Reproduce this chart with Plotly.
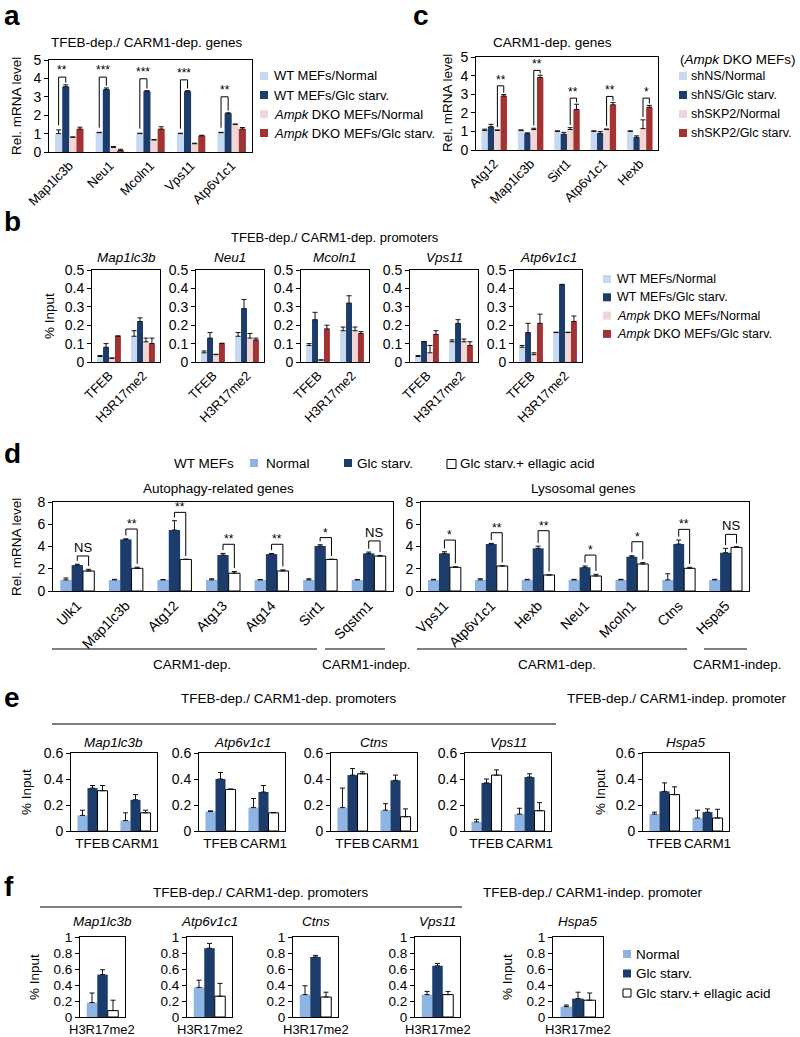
import plotly.graph_objects as go

# ---------------- DATA ----------------
# Panel a: TFEB-dep./CARM1-dep. genes (Rel. mRNA level)
a_genes = ["Map1lc3b", "Neu1", "Mcoln1", "Vps11", "Atp6v1c1"]
a_wt_normal = [1.0, 1.05, 1.0, 1.0, 1.05]
a_wt_normal_err = [0.2, 0.02, 0.02, 0.02, 0.02]
a_wt_glc = [3.55, 3.4, 3.3, 3.3, 2.1]
a_wt_glc_err = [0.1, 0.08, 0.03, 0.03, 0.03]
a_dko_normal = [0.8, 0.25, 0.65, 0.45, 1.5]
a_dko_normal_err = [0.02, 0.05, 0.03, 0.03, 0.02]
a_dko_glc = [1.25, 0.08, 1.25, 0.88, 1.25]
a_dko_glc_err = [0.1, 0.07, 0.12, 0.03, 0.08]
a_sig = ["**", "***", "***", "***", "**"]
a_sig_y = [4.07, 4.07, 3.98, 3.92, 3.0]

# Panel c: CARM1-dep. genes (Ampk DKO MEFs)
c_genes = ["Atg12", "Map1lc3b", "Sirt1", "Atp6v1c1", "Hexb"]
c_shns_normal = [1.05, 1.05, 1.0, 1.0, 1.0]
c_shns_normal_err = [0.07, 0.03, 0.03, 0.03, 0.03]
c_shns_glc = [1.25, 0.88, 0.85, 0.9, 0.68]
c_shns_glc_err = [0.13, 0.04, 0.1, 0.1, 0.08]
c_shskp2_normal = [1.05, 1.1, 1.1, 1.1, 1.15]
c_shskp2_normal_err = [0.03, 0.07, 0.1, 0.03, 0.47]
c_shskp2_glc = [2.9, 3.9, 2.18, 2.43, 2.3]
c_shskp2_glc_err = [0.08, 0.12, 0.28, 0.12, 0.1]
c_sig = ["**", "**", "**", "**", "*"]
c_sig_y = [3.45, 4.28, 2.79, 2.88, 2.79]

# Panel b: ChIP (% Input), per gene: [TFEB, H3R17me2]
b_targets = ["TFEB", "H3R17me2"]
b_genes = ["Map1lc3b", "Neu1", "Mcoln1", "Vps11", "Atp6v1c1"]
b_wt_normal = [[0.03, 0.14], [0.05, 0.14], [0.09, 0.17], [0.03, 0.11], [0.08, 0.16]]
b_wt_normal_err = [[0.005, 0.03], [0.01, 0.02], [0.01, 0.02], [0.005, 0.01], [0.01, 0.002]]
b_wt_glc = [[0.08, 0.22], [0.13, 0.29], [0.23, 0.32], [0.11, 0.21], [0.16, 0.42]]
b_wt_glc_err = [[0.02, 0.02], [0.03, 0.05], [0.04, 0.04], [0.002, 0.02], [0.05, 0.002]]
b_dko_normal = [[0.02, 0.11], [0.04, 0.13], [0.01, 0.17], [0.05, 0.11], [0.04, 0.16]]
b_dko_normal_err = [[0.002, 0.02], [0.002, 0.025], [0.002, 0.02], [0.04, 0.015], [0.01, 0.002]]
b_dko_glc = [[0.14, 0.10], [0.10, 0.12], [0.18, 0.155], [0.15, 0.09], [0.21, 0.22]]
b_dko_glc_err = [[0.002, 0.03], [0.002, 0.01], [0.02, 0.01], [0.02, 0.02], [0.05, 0.03]]

# Panel d: WT MEFs, Rel. mRNA level
d_auto_genes = ["Ulk1", "Map1lc3b", "Atg12", "Atg13", "Atg14", "Sirt1", "Sqstm1"]
d_auto_normal = [1.0, 1.0, 1.0, 1.0, 1.0, 1.0, 1.0]
d_auto_normal_err = [0.17, 0.05, 0.03, 0.1, 0.03, 0.1, 0.03]
d_auto_glc = [2.33, 4.64, 5.48, 3.23, 3.32, 4.04, 3.38]
d_auto_glc_err = [0.08, 0.05, 0.84, 0.15, 0.05, 0.12, 0.12]
d_auto_ea = [1.8, 2.04, 2.84, 1.6, 1.8, 2.84, 3.14]
d_auto_ea_err = [0.15, 0.1, 0.01, 0.15, 0.1, 0.01, 0.05]
d_auto_sig = ["NS", "**", "**", "**", "**", "*", "NS"]
d_auto_sig_y = [3.15, 5.57, 7.07, 4.2, 4.2, 4.8, 4.5]

d_lyso_genes = ["Vps11", "Atp6v1c1", "Hexb", "Neu1", "Mcoln1", "Ctns", "Hspa5"]
d_lyso_normal = [1.0, 1.0, 1.0, 1.0, 1.0, 1.0, 1.0]
d_lyso_normal_err = [0.05, 0.1, 0.05, 0.05, 0.05, 0.55, 0.05]
d_lyso_glc = [3.38, 4.22, 3.83, 2.13, 3.08, 4.22, 3.44]
d_lyso_glc_err = [0.15, 0.06, 0.2, 0.12, 0.09, 0.36, 0.39]
d_lyso_ea = [2.13, 2.25, 1.44, 1.35, 2.43, 2.04, 3.92]
d_lyso_ea_err = [0.05, 0.01, 0.01, 0.15, 0.12, 0.09, 0.06]
d_lyso_sig = ["*", "**", "**", "*", "*", "**", "NS"]
d_lyso_sig_y = [4.58, 5.24, 5.42, 3.23, 4.43, 5.54, 5.09]

# Panel e: ChIP (% Input), per gene: [TFEB, CARM1]
e_targets = ["TFEB", "CARM1"]
e_genes = ["Map1lc3b", "Atp6v1c1", "Ctns", "Vps11", "Hspa5"]
e_normal = [[0.12, 0.08], [0.15, 0.18], [0.18, 0.16], [0.07, 0.13], [0.13, 0.10]]
e_normal_err = [[0.04, 0.06], [0.005, 0.07], [0.15, 0.05], [0.02, 0.045], [0.015, 0.06]]
e_glc = [[0.33, 0.24], [0.40, 0.30], [0.43, 0.39], [0.37, 0.415], [0.305, 0.145]]
e_glc_err = [[0.02, 0.04], [0.05, 0.05], [0.05, 0.04], [0.03, 0.025], [0.065, 0.025]]
e_ea = [[0.31, 0.14], [0.32, 0.14], [0.44, 0.11], [0.43, 0.156], [0.28, 0.10]]
e_ea_err = [[0.04, 0.02], [0.003, 0.003], [0.015, 0.06], [0.04, 0.062], [0.06, 0.067]]

# Panel f: ChIP H3R17me2 (% Input)
f_target = ["H3R17me2"]
f_genes = ["Map1lc3b", "Atp6v1c1", "Ctns", "Vps11", "Hspa5"]
f_normal = [0.18, 0.37, 0.28, 0.28, 0.13]
f_normal_err = [0.12, 0.09, 0.11, 0.04, 0.02]
f_glc = [0.53, 0.86, 0.75, 0.64, 0.23]
f_glc_err = [0.06, 0.06, 0.02, 0.03, 0.08]
f_ea = [0.08, 0.26, 0.25, 0.28, 0.21]
f_ea_err = [0.13, 0.16, 0.06, 0.04, 0.09]

# ---------------- STYLE ----------------
W, H = 800, 1037
FONT = "Liberation Sans, Arial, sans-serif"
C_LB = "#c6d9f1"
C_DB = "#1c3c6c"
C_PK = "#f2d6d6"
C_RD = "#a33333"
C_NORM = "#8db4e2"
BARGAP = 0.3


def px(x):
    return x / W


def py(y):
    return 1 - y / H


layout = dict(
    width=W, height=H, margin=dict(l=0, r=0, t=0, b=0),
    template="none", paper_bgcolor="white", plot_bgcolor="white",
    barmode="group", bargap=BARGAP, bargroupgap=0, showlegend=False,
    font=dict(family=FONT, size=13, color="black"),
)
traces = []
shapes = []
annotations = []
counter = [0]


def make_axes(x0, x1, ytop, ybot, yrange, dtick, xangle=0, fs=13, yfs=14,
              showx=True):
    counter[0] += 1
    i = counter[0]
    s = "" if i == 1 else str(i)
    layout["xaxis" + s] = dict(
        domain=[px(x0), px(x1)], anchor="y" + s, showline=True, mirror=True,
        linecolor="black", linewidth=1, ticks="", showgrid=False, zeroline=False,
        tickangle=xangle, tickfont=dict(size=fs, color="black", family=FONT),
        showticklabels=showx, fixedrange=True, automargin=False)
    layout["yaxis" + s] = dict(
        domain=[py(ybot), py(ytop)], anchor="x" + s, range=yrange, dtick=dtick,
        showline=True, mirror=True, linecolor="black", linewidth=1,
        ticks="outside", ticklen=4, tickcolor="black", showgrid=False,
        zeroline=False, tickfont=dict(size=yfs, color="black", family=FONT),
        fixedrange=True, automargin=False)
    return "x" + s, "y" + s


def add_bars(xn, yn, cats, vals, errs, color, outline=False):
    traces.append(go.Bar(
        x=cats, y=vals, xaxis=xn, yaxis=yn,
        marker=dict(color=color, line=dict(color="black" if outline else color,
                                           width=1 if outline else 0)),
        error_y=dict(type="data", symmetric=False, array=errs,
                     arrayminus=[0] * len(errs), color="#111", thickness=1,
                     width=2.5),
        showlegend=False, hoverinfo="skip"))


def text(x, y, s, size=13, xanchor="center", yanchor="middle", angle=0,
         xref="paper", yref="paper", yshift=0):
    if xref == "paper":
        x = px(x)
    if yref == "paper":
        y = py(y)
    annotations.append(dict(x=x, y=y, xref=xref, yref=yref, text=s,
                            showarrow=False, xanchor=xanchor, yanchor=yanchor,
                            textangle=angle, borderpad=0, yshift=yshift,
                            font=dict(size=size, family=FONT, color="black")))


def hline(x0, x1, y):
    shapes.append(dict(type="line", xref="paper", yref="paper", x0=px(x0),
                       x1=px(x1), y0=py(y), y1=py(y),
                       line=dict(color="black", width=1)))


def legend_square(x, y, color, outline=False, size=8):
    shapes.append(dict(type="rect", xref="paper", yref="paper",
                       x0=px(x), x1=px(x + size), y0=py(y + size / 2),
                       y1=py(y - size / 2), fillcolor=color,
                       line=dict(color="black" if outline else color,
                                 width=1 if outline else 0)))


def bracket(xn, yn, i, nser, li, ri, ytop, lbot, rbot, label, size=12, shift=-3):
    gw = 1 - BARGAP
    bw = gw / nser
    xl = i - gw / 2 + bw * (li + 0.5)
    xr = i - gw / 2 + bw * (ri + 0.5)
    ln = dict(color="black", width=1)
    shapes.append(dict(type="line", xref=xn, yref=yn, x0=xl, x1=xl, y0=lbot, y1=ytop, line=ln))
    shapes.append(dict(type="line", xref=xn, yref=yn, x0=xl, x1=xr, y0=ytop, y1=ytop, line=ln))
    shapes.append(dict(type="line", xref=xn, yref=yn, x0=xr, x1=xr, y0=rbot, y1=ytop, line=ln))
    text((xl + xr) / 2, ytop, label, size=size, yanchor="bottom", xref=xn,
         yref=yn, yshift=shift)


# ---------------- PANEL a ----------------
xa, ya = make_axes(49, 252, 60, 152, [0, 5], 1, xangle=-45)
add_bars(xa, ya, a_genes, a_wt_normal, a_wt_normal_err, C_LB)
add_bars(xa, ya, a_genes, a_wt_glc, a_wt_glc_err, C_DB)
add_bars(xa, ya, a_genes, a_dko_normal, a_dko_normal_err, C_PK)
add_bars(xa, ya, a_genes, a_dko_glc, a_dko_glc_err, C_RD)
for i in range(len(a_genes)):
    bracket(xa, ya, i, 4, 0, 1, a_sig_y[i],
            a_wt_normal[i] + a_wt_normal_err[i] + 0.25,
            a_wt_glc[i] + a_wt_glc_err[i] + 0.12, a_sig[i], shift=-1)
text(3, 16, "<b>a</b>", size=28, xanchor="left")
text(147, 42, "TFEB-dep./ CARM1-dep. genes", size=13.5)
text(16, 106, "Rel. mRNA level", size=13.5, angle=-90)
for k, (lab, col) in enumerate([("WT MEFs/Normal", C_LB), ("WT MEFs/Glc starv.", C_DB),
                                 ("<i>Ampk</i> DKO MEFs/Normal", C_PK),
                                 ("<i>Ampk</i> DKO MEFs/Glc starv.", C_RD)]):
    yy = 76 + k * 19
    legend_square(260, yy, col)
    text(273, yy, lab, size=13, xanchor="left")

# ---------------- PANEL c ----------------
xc, yc = make_axes(476, 658, 57, 150, [0, 5], 1, xangle=-45)
add_bars(xc, yc, c_genes, c_shns_normal, c_shns_normal_err, C_LB)
add_bars(xc, yc, c_genes, c_shns_glc, c_shns_glc_err, C_DB)
add_bars(xc, yc, c_genes, c_shskp2_normal, c_shskp2_normal_err, C_PK)
add_bars(xc, yc, c_genes, c_shskp2_glc, c_shskp2_glc_err, C_RD)
for i in range(len(c_genes)):
    bracket(xc, yc, i, 4, 2, 3, c_sig_y[i],
            c_shskp2_normal[i] + c_shskp2_normal_err[i] + 0.15,
            c_shskp2_glc[i] + c_shskp2_glc_err[i] + 0.1, c_sig[i], shift=-2)
text(412, 16, "<b>c</b>", size=28, xanchor="left")
text(552, 42, "CARM1-dep. genes", size=13.5)
text(447, 103, "Rel. mRNA level", size=13.5, angle=-90)
text(679, 59, "(<i>Ampk</i> DKO MEFs)", size=13.5, xanchor="left")
for k, (lab, col) in enumerate([("shNS/Normal", C_LB), ("shNS/Glc starv.", C_DB),
                                 ("shSKP2/Normal", C_PK), ("shSKP2/Glc starv.", C_RD)]):
    yy = 76 + k * 19
    legend_square(679, yy, col)
    text(690, yy, lab, size=12.5, xanchor="left")

# ---------------- PANEL b ----------------
b_lefts = [92, 196, 301, 410, 514]
for g, gene in enumerate(b_genes):
    xb, yb = make_axes(b_lefts[g], b_lefts[g] + 68, 270, 362, [0, 0.5], 0.1,
                       xangle=-45, fs=13, yfs=14)
    add_bars(xb, yb, b_targets, b_wt_normal[g], b_wt_normal_err[g], C_LB)
    add_bars(xb, yb, b_targets, b_wt_glc[g], b_wt_glc_err[g], C_DB)
    add_bars(xb, yb, b_targets, b_dko_normal[g], b_dko_normal_err[g], C_PK)
    add_bars(xb, yb, b_targets, b_dko_glc[g], b_dko_glc_err[g], C_RD)
    text(b_lefts[g] + 34, 258, "<i>%s</i>" % gene, size=13.5)
text(3, 221, "<b>b</b>", size=28, xanchor="left")
text(335, 237, "TFEB-dep./ CARM1-dep. promoters", size=13)
text(49, 316, "% Input", size=13.5, angle=-90)
for k, (lab, col) in enumerate([("WT MEFs/Normal", C_LB), ("WT MEFs/Glc starv.", C_DB),
                                 ("<i>Ampk</i> DKO MEFs/Normal", C_PK),
                                 ("<i>Ampk</i> DKO MEFs/Glc starv.", C_RD)]):
    yy = 279 + k * 18.3
    legend_square(603, yy, col)
    text(616, yy, lab, size=12.5, xanchor="left")

# ---------------- PANEL d ----------------
xd1, yd1 = make_axes(53, 393, 502, 591, [0, 8], 2, xangle=-45, fs=14)
add_bars(xd1, yd1, d_auto_genes, d_auto_normal, d_auto_normal_err, C_NORM)
add_bars(xd1, yd1, d_auto_genes, d_auto_glc, d_auto_glc_err, C_DB)
add_bars(xd1, yd1, d_auto_genes, d_auto_ea, d_auto_ea_err, "white", outline=True)
for i in range(len(d_auto_genes)):
    isns = d_auto_sig[i] == "NS"
    bracket(xd1, yd1, i, 3, 1, 2, d_auto_sig_y[i],
            d_auto_glc[i] + d_auto_glc_err[i] + 0.3,
            d_auto_ea[i] + d_auto_ea_err[i] + 0.3, d_auto_sig[i],
            size=13 if isns else 12, shift=0 if isns else -3)
xd2, yd2 = make_axes(421, 749, 502, 591, [0, 8], 2, xangle=-45, fs=14)
add_bars(xd2, yd2, d_lyso_genes, d_lyso_normal, d_lyso_normal_err, C_NORM)
add_bars(xd2, yd2, d_lyso_genes, d_lyso_glc, d_lyso_glc_err, C_DB)
add_bars(xd2, yd2, d_lyso_genes, d_lyso_ea, d_lyso_ea_err, "white", outline=True)
for i in range(len(d_lyso_genes)):
    isns = d_lyso_sig[i] == "NS"
    bracket(xd2, yd2, i, 3, 1, 2, d_lyso_sig_y[i],
            d_lyso_glc[i] + d_lyso_glc_err[i] + 0.3,
            d_lyso_ea[i] + d_lyso_ea_err[i] + 0.3, d_lyso_sig[i],
            size=13 if isns else 12, shift=0 if isns else -3)
text(3, 453, "<b>d</b>", size=28, xanchor="left")
text(173, 463, "WT MEFs", size=13.5, xanchor="left")
legend_square(250, 463, C_NORM)
text(265, 463, "Normal", size=13.5, xanchor="left")
legend_square(344, 463, C_DB)
text(356, 463, "Glc starv.", size=13.5, xanchor="left")
legend_square(447, 464, "white", outline=True, size=9)
text(459, 463, "Glc starv.+ ellagic acid", size=13.5, xanchor="left")
text(218, 489, "Autophagy-related genes", size=13.5)
text(583, 489, "Lysosomal genes", size=13.5)
text(16, 547, "Rel. mRNA level", size=13.5, angle=-90)
hline(52, 317, 649)
text(192, 664, "CARM1-dep.", size=13.5)
hline(325, 385, 649)
text(366, 664, "CARM1-indep.", size=13.5)
hline(417, 687, 649)
text(557, 664, "CARM1-dep.", size=13.5)
hline(704, 747, 649)
text(737, 664, "CARM1-indep.", size=13.5)

# ---------------- PANEL e ----------------
e_lefts = [71, 199, 331, 465, 643]
for g, gene in enumerate(e_genes):
    xe, ye = make_axes(e_lefts[g], e_lefts[g] + 86, 753, 831, [0, 0.6], 0.2, fs=13.5)
    add_bars(xe, ye, e_targets, e_normal[g], e_normal_err[g], C_NORM)
    add_bars(xe, ye, e_targets, e_glc[g], e_glc_err[g], C_DB)
    add_bars(xe, ye, e_targets, e_ea[g], e_ea_err[g], "white", outline=True)
    text(e_lefts[g] + 43, 742, "<i>%s</i>" % gene, size=13.5)
text(3, 697, "<b>e</b>", size=28, xanchor="left")
text(289, 698, "TFEB-dep./ CARM1-dep. promoters", size=13.5)
text(677, 698, "TFEB-dep./ CARM1-indep. promoter", size=13.5)
hline(52, 556, 724)
text(26, 792, "% Input", size=13.5, angle=-90)
text(600, 792, "% Input", size=13.5, angle=-90)

# ---------------- PANEL f ----------------
f_lefts = [80, 187, 293, 415, 553]
f_widths = [45, 45, 45, 45, 50]
for g, gene in enumerate(f_genes):
    xf, yf = make_axes(f_lefts[g], f_lefts[g] + f_widths[g], 937, 1017, [0, 1], 0.2,
                       showx=False, yfs=13.5)
    add_bars(xf, yf, f_target, [f_normal[g]], [f_normal_err[g]], C_NORM)
    add_bars(xf, yf, f_target, [f_glc[g]], [f_glc_err[g]], C_DB)
    add_bars(xf, yf, f_target, [f_ea[g]], [f_ea_err[g]], "white", outline=True)
    text(f_lefts[g] + f_widths[g] / 2, 921, "<i>%s</i>" % gene, size=13.5)
    text(f_lefts[g] + f_widths[g] / 2, 1029, f_target[0], size=13)
text(3, 886, "<b>f</b>", size=28, xanchor="left")
text(261, 892, "TFEB-dep./ CARM1-dep. promoters", size=13.5)
text(593, 892, "TFEB-dep./ CARM1-indep. promoter", size=13.5)
hline(40, 462, 907)
text(34, 977, "% Input", size=13.5, angle=-90)
text(507, 977, "% Input", size=13.5, angle=-90)
for k, (lab, col, ol) in enumerate([("Normal", C_NORM, False), ("Glc starv.", C_DB, False),
                                     ("Glc starv.+ ellagic acid", "white", True)]):
    yy = 954 + k * 19.5
    legend_square(623, yy, col, outline=ol)
    text(635, yy, lab, size=13.5, xanchor="left")

layout["shapes"] = shapes
layout["annotations"] = annotations
fig = go.Figure(data=traces, layout=layout)
fig.write_html("out.html",
               config={"displayModeBar": False, "staticPlot": True},
               post_script="document.body.style.margin='0px';"
                           "document.body.style.overflow='hidden';")
